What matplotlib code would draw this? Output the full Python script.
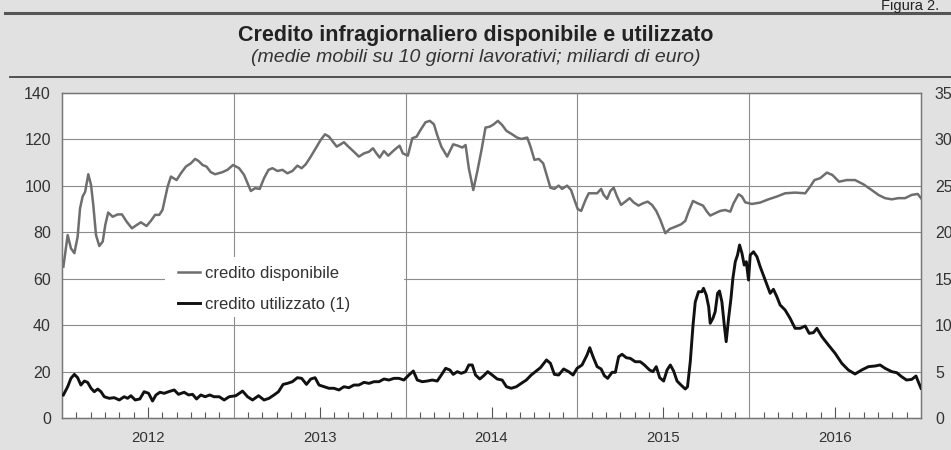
import numpy as np
import matplotlib
matplotlib.use("Agg")
import matplotlib.pyplot as plt
from matplotlib.lines import Line2D
from matplotlib.patches import Rectangle

# ---------------- data ----------------
# time as decimal years
disp_t = [2012.008, 2012.033, 2012.052, 2012.072, 2012.091, 2012.105, 2012.120, 2012.135, 2012.153, 2012.169,
          2012.182, 2012.198, 2012.217, 2012.237, 2012.252, 2012.269, 2012.295, 2012.324, 2012.349, 2012.376,
          2012.407, 2012.430, 2012.459, 2012.492, 2012.517, 2012.542, 2012.566, 2012.585, 2012.615, 2012.634,
          2012.667, 2012.692, 2012.721, 2012.750, 2012.775, 2012.795, 2012.818, 2012.841, 2012.866, 2012.891,
          2012.934, 2012.963, 2012.996, 2013.031, 2013.060, 2013.080, 2013.099, 2013.124, 2013.151, 2013.176,
          2013.202, 2013.225, 2013.254, 2013.283, 2013.312, 2013.341, 2013.370, 2013.395, 2013.419, 2013.448,
          2013.477, 2013.506, 2013.531, 2013.554, 2013.577, 2013.599, 2013.622, 2013.641, 2013.667, 2013.699,
          2013.728, 2013.758, 2013.787, 2013.810, 2013.830, 2013.849, 2013.874, 2013.899, 2013.923, 2013.946,
          2013.965, 2013.984, 2014.013, 2014.039, 2014.064, 2014.087, 2014.116, 2014.141, 2014.165, 2014.184,
          2014.208, 2014.242, 2014.277, 2014.304, 2014.330, 2014.349, 2014.368, 2014.394, 2014.417, 2014.442,
          2014.465, 2014.490, 2014.513, 2014.537, 2014.562, 2014.587, 2014.620, 2014.649, 2014.673, 2014.708,
          2014.727, 2014.750, 2014.775, 2014.801, 2014.824, 2014.843, 2014.866, 2014.891, 2014.911, 2014.940,
          2014.963, 2014.983, 2015.002, 2015.022, 2015.047, 2015.066, 2015.095, 2015.115, 2015.138, 2015.153,
          2015.173, 2015.192, 2015.211, 2015.231, 2015.254, 2015.279, 2015.304, 2015.327, 2015.356, 2015.382,
          2015.409, 2015.434, 2015.459, 2015.483, 2015.512, 2015.537, 2015.570, 2015.603, 2015.628, 2015.647,
          2015.673, 2015.699, 2015.731, 2015.754, 2015.773, 2015.802, 2015.831, 2015.860, 2015.890, 2015.909,
          2015.938, 2015.958, 2015.977, 2016.016, 2016.064, 2016.112, 2016.161, 2016.209, 2016.267, 2016.326,
          2016.355, 2016.380, 2016.413, 2016.452, 2016.484, 2016.523, 2016.568, 2016.616, 2016.664, 2016.713,
          2016.752, 2016.791, 2016.830, 2016.868, 2016.907, 2016.946, 2016.981, 2017.000]
disp_v = [65.2, 78.8, 73.1, 71.0, 78.1, 90.3, 95.4, 97.5, 105.0, 100.4,
          91.8, 78.8, 74.1, 76.0, 83.2, 88.5, 86.7, 87.7, 87.7, 84.6,
          81.7, 82.9, 84.3, 82.7, 84.9, 87.5, 87.5, 89.6, 99.7, 104.0,
          102.5, 105.4, 108.3, 109.7, 111.6, 110.7, 109.0, 108.3, 105.9, 105.0,
          105.9, 106.9, 109.0, 107.6, 104.7, 101.1, 97.8, 99.0, 98.7, 103.3,
          106.9, 107.6, 106.4, 106.9, 105.4, 106.4, 108.7, 107.6, 109.3, 112.6,
          116.2, 119.8, 122.2, 121.2, 119.0, 116.9, 117.9, 118.8, 116.9, 114.7,
          112.6, 114.0, 114.7, 116.2, 114.0, 112.2, 115.0, 113.0, 114.7, 116.2,
          117.3, 114.0, 113.0, 120.5, 121.2, 124.1, 127.4, 128.0, 126.5, 121.9,
          116.9, 112.6, 117.9, 117.3, 116.5, 117.6, 107.6, 98.2, 106.1, 115.5,
          125.1, 125.5, 126.5, 128.0, 126.2, 123.7, 122.2, 120.8, 120.2, 120.8,
          116.9, 111.2, 111.6, 109.7, 104.0, 99.2, 98.7, 100.1, 98.7, 100.1,
          98.2, 93.9, 90.0, 89.2, 93.9, 96.8, 96.8, 96.8, 98.7, 96.1,
          94.4, 97.8, 99.2, 95.4, 91.8, 93.2, 94.7, 92.9, 91.5, 92.5,
          93.2, 91.8, 89.2, 85.3, 79.6, 81.4, 82.4, 83.4, 84.9, 88.9,
          93.5, 92.5, 91.5, 88.9, 87.2, 88.2, 89.2, 89.6, 88.9, 92.5,
          96.4, 95.4, 92.9, 92.2, 92.8, 94.2, 95.4, 96.8, 97.1, 96.8,
          99.7, 102.5, 103.3, 105.7, 104.7, 101.8, 102.5, 102.5, 100.7, 98.2,
          96.1, 94.7, 94.2, 94.7, 94.7, 96.1, 96.5, 94.7]

util_t = [2012.008, 2012.033, 2012.052, 2012.072, 2012.091, 2012.110, 2012.130, 2012.149, 2012.169, 2012.188,
          2012.208, 2012.227, 2012.246, 2012.275, 2012.304, 2012.333, 2012.362, 2012.382, 2012.401, 2012.426,
          2012.453, 2012.478, 2012.504, 2012.527, 2012.547, 2012.570, 2012.595, 2012.620, 2012.653, 2012.678,
          2012.711, 2012.737, 2012.760, 2012.783, 2012.808, 2012.833, 2012.860, 2012.885, 2012.915, 2012.944,
          2012.973, 2013.012, 2013.051, 2013.080, 2013.109, 2013.144, 2013.176, 2013.205, 2013.234, 2013.260,
          2013.287, 2013.312, 2013.341, 2013.370, 2013.395, 2013.423, 2013.448, 2013.473, 2013.496, 2013.525,
          2013.554, 2013.583, 2013.612, 2013.641, 2013.670, 2013.699, 2013.728, 2013.758, 2013.787, 2013.816,
          2013.845, 2013.874, 2013.903, 2013.932, 2013.961, 2013.990, 2014.019, 2014.045, 2014.068, 2014.097,
          2014.126, 2014.155, 2014.184, 2014.208, 2014.233, 2014.258, 2014.277, 2014.301, 2014.324, 2014.349,
          2014.368, 2014.388, 2014.407, 2014.432, 2014.455, 2014.478, 2014.504, 2014.533, 2014.562, 2014.587,
          2014.615, 2014.645, 2014.673, 2014.703, 2014.731, 2014.756, 2014.785, 2014.820, 2014.843, 2014.866,
          2014.891, 2014.920, 2014.949, 2014.975, 2014.998, 2015.027, 2015.056, 2015.072, 2015.091, 2015.115,
          2015.138, 2015.157, 2015.176, 2015.202, 2015.221, 2015.240, 2015.260, 2015.285, 2015.308, 2015.337,
          2015.366, 2015.390, 2015.420, 2015.440, 2015.459, 2015.479, 2015.502, 2015.522, 2015.541, 2015.560,
          2015.580, 2015.603, 2015.628, 2015.641, 2015.657, 2015.673, 2015.686, 2015.705, 2015.725, 2015.734,
          2015.750, 2015.764, 2015.773, 2015.789, 2015.802, 2015.816, 2015.827, 2015.841, 2015.855, 2015.866,
          2015.880, 2015.894, 2015.905, 2015.919, 2015.932, 2015.944, 2015.958, 2015.971, 2015.983, 2015.996,
          2016.006, 2016.025, 2016.045, 2016.064, 2016.093, 2016.122, 2016.141, 2016.161, 2016.180, 2016.209,
          2016.238, 2016.267, 2016.297, 2016.326, 2016.349, 2016.374, 2016.394, 2016.423, 2016.461, 2016.500,
          2016.539, 2016.577, 2016.616, 2016.655, 2016.694, 2016.733, 2016.762, 2016.791, 2016.830, 2016.859,
          2016.887, 2016.916, 2016.946, 2016.971, 2016.984, 2017.000]
util_v = [2.48, 3.37, 4.27, 4.70, 4.34, 3.55, 3.98, 3.84, 3.20, 2.83,
          3.12, 2.83, 2.29, 2.12, 2.19, 1.94, 2.29, 2.12, 2.40, 1.94,
          2.05, 2.83, 2.66, 1.83, 2.48, 2.77, 2.66, 2.83, 3.02, 2.55,
          2.77, 2.48, 2.55, 2.05, 2.48, 2.29, 2.48, 2.29, 2.29, 1.94,
          2.29, 2.40, 2.90, 2.29, 1.94, 2.40, 1.94, 2.12, 2.48, 2.83,
          3.62, 3.73, 3.91, 4.34, 4.27, 3.62, 4.20, 4.34, 3.55, 3.37,
          3.20, 3.20, 3.02, 3.37, 3.26, 3.55, 3.55, 3.84, 3.73, 3.91,
          3.91, 4.20, 4.09, 4.27, 4.27, 4.09, 4.63, 5.06, 4.09, 3.91,
          3.98, 4.09, 3.98, 4.63, 5.35, 5.17, 4.70, 4.99, 4.81, 4.99,
          5.71, 5.71, 4.63, 4.20, 4.56, 4.99, 4.63, 4.20, 4.09, 3.37,
          3.20, 3.37, 3.73, 4.09, 4.63, 4.99, 5.42, 6.25, 5.89, 4.70,
          4.63, 5.28, 4.99, 4.63, 5.35, 5.71, 6.78, 7.57, 6.60, 5.53,
          5.28, 4.56, 4.27, 4.92, 4.92, 6.60, 6.86, 6.49, 6.42, 6.06,
          6.06, 5.71, 5.17, 4.99, 5.53, 4.34, 3.98, 5.17, 5.71, 5.06,
          3.98, 3.55, 3.12, 3.37, 6.06, 10.00, 12.50, 13.60, 13.60, 13.97,
          13.25, 11.99, 10.20, 10.74, 11.45, 13.43, 13.68, 12.52, 10.00, 8.22,
          10.74, 12.89, 15.04, 16.83, 17.55, 18.63, 17.73, 16.47, 16.83, 14.86,
          17.55, 17.90, 17.37, 16.29, 14.86, 13.43, 13.86, 13.06, 12.17, 11.63,
          10.74, 9.66, 9.66, 9.91, 9.12, 9.19, 9.66, 8.76, 7.86, 6.97,
          5.89, 5.17, 4.74, 5.17, 5.53, 5.60, 5.71, 5.35, 4.99, 4.88,
          4.45, 4.09, 4.16, 4.52, 3.91, 3.20]

years = [2012, 2013, 2014, 2015, 2016]
left_ticks = [0, 20, 40, 60, 80, 100, 120, 140]
right_ticks = [0, 5, 10, 15, 20, 25, 30, 35]
label_disp = "credito disponibile"
label_util = "credito utilizzato (1)"
title = "Credito infragiornaliero disponibile e utilizzato"
subtitle = "(medie mobili su 10 giorni lavorativi; miliardi di euro)"

# ---------------- style ----------------
plt.rcParams['font.family'] = ['Liberation Sans', 'DejaVu Sans']
BG = '#e1e1e1'
GRID = '#8c8c8c'
TXT = '#333333'

W, H = 951, 450
fig = plt.figure(figsize=(W / 100, H / 100), dpi=100, facecolor=BG)
ax = fig.add_axes([62 / W, 1 - 418 / H, (921 - 62) / W, (418 - 93) / H])
ax.set_facecolor('white')
ax2 = ax.twinx()

x0, x1 = years[0], years[-1] + 1
ax.set_xlim(x0, x1)
ax.set_ylim(left_ticks[0], left_ticks[-1])
ax2.set_ylim(right_ticks[0], right_ticks[-1])

# grid
ax.set_axisbelow(True)
ax.set_yticks(left_ticks)
ax.yaxis.grid(True, color=GRID, lw=0.8)
for yb in years[1:]:
    ax.axvline(yb, color=GRID, lw=0.8, zorder=0.6)

# legend background box
ax.add_patch(Rectangle(((165 - 62) / 859, (418 - 317) / 325), (404 - 165) / 859, 60 / 325,
                       transform=ax.transAxes, facecolor='white', edgecolor='none', zorder=1))

l1, = ax.plot(disp_t, disp_v, color='#6e6e6e', lw=1.8, zorder=3, solid_joinstyle='round')
l2, = ax2.plot(util_t, util_v, color='#111111', lw=2.1, zorder=3, solid_joinstyle='round')

# x ticks: labels at mid-year, minor monthly ticks
months = [x0 + k / 12 for k in range(1, (x1 - x0) * 12) if k % 6 != 0]
ax.set_xticks([y + 0.5 for y in years])
ax.set_xticklabels([str(y) for y in years])
ax.set_xticks(months, minor=True)
ax.tick_params(axis='x', which='major', direction='in', length=8, width=0.8, color='#555555',
               pad=9, labelsize=10.8, labelcolor=TXT)
ax.tick_params(axis='x', which='minor', direction='in', length=4.5, width=0.8, color='#555555')
ax.tick_params(axis='y', length=0, pad=8, labelsize=11.5, labelcolor=TXT)
ax2.set_yticks(right_ticks)
ax2.tick_params(axis='y', length=0, pad=10, labelsize=11.5, labelcolor=TXT)

for a in (ax, ax2):
    for s in a.spines.values():
        s.set_color('#777777')
        s.set_linewidth(0.9)

leg = ax.legend([l1, l2], [label_disp, label_util], loc='upper left',
                bbox_to_anchor=((178 - 62) / 859, (418 - 266) / 325), frameon=False,
                fontsize=12, handlelength=1.3, handletextpad=0.3, labelspacing=0.95,
                borderpad=0, borderaxespad=0)
for t in leg.get_texts():
    t.set_color(TXT)

# header
fig.text(0.5, 1 - 35 / H, title, ha='center', va='center', fontsize=15.5, fontweight='bold',
         color='#222222')
fig.text(0.5, 1 - 57 / H, subtitle, ha='center', va='center', fontsize=14, style='italic',
         color='#333333')
fig.text(881 / W, 1 - 10 / H, "Figura 2.", ha='left', va='baseline', fontsize=10.5,
         color='#222222')
fig.add_artist(Line2D([5 / W, 1], [1 - 13 / H, 1 - 13 / H], color='#555555', lw=2.2))
fig.add_artist(Line2D([10 / W, 1], [1 - 77 / H, 1 - 77 / H], color='#444444', lw=1.3))

fig.savefig('out.png', dpi=100, facecolor=BG)
